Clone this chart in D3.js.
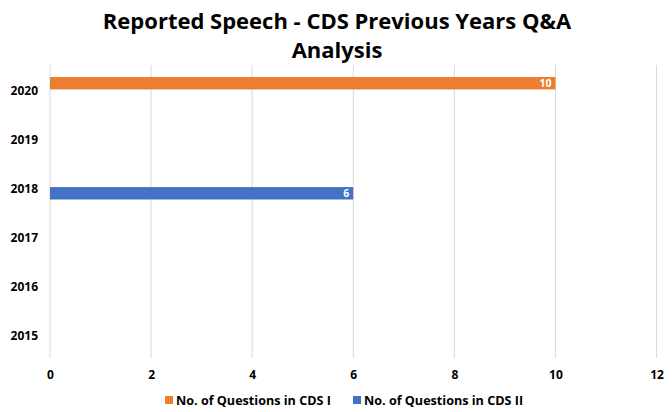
<!DOCTYPE html>
<html><head><meta charset="utf-8">
<script src="https://cdn.jsdelivr.net/npm/d3@7"></script>
<style>body{margin:0;background:#fff}svg{display:block}</style>
</head><body>
<svg id="c" width="672" height="412"></svg>
<script>
const years = ["2020","2019","2018","2017","2016","2015"];
const seriesNames = ["No. of Questions in CDS I","No. of Questions in CDS II"];
const cds1 = [10,0,0,0,0,0];
const cds2 = [0,0,6,0,0,0];
const xTicks = [0,2,4,6,8,10,12];
const colors = ["#ED7D31","#4472C4"];
const titleLines = ["Reported Speech - CDS Previous Years Q&A","Analysis"];

const svg = d3.select("#c");
const font = "'Open Sans', 'Noto Sans', sans-serif";
const m = {l:50, r:15, t:65, b:54};
const x = d3.scaleLinear().domain([0,12]).range([m.l, 656.5]);
const y = d3.scaleBand().domain(years).range([m.t, 358]).paddingInner(0).paddingOuter(0);
const sub = d3.scaleBand().domain([0,1]).range([0, y.bandwidth()]).paddingInner(0).paddingOuter(0.97);

// title
svg.selectAll("text.title").data(titleLines).join("text")
  .attr("class","title")
  .attr("x", 337).attr("y",(d,i)=>29+i*29)
  .attr("text-anchor","middle")
  .attr("font-family",font).attr("font-weight","bold").attr("font-size",22)
  .attr("fill","#000").text(d=>d);

// grid
svg.append("g").selectAll("line").data(xTicks).join("line")
  .attr("x1",d=>x(d)).attr("x2",d=>x(d)).attr("y1",m.t).attr("y2",358)
  .attr("stroke","#d9d9d9").attr("stroke-width",1);

// bars
const data = [];
years.forEach((yr,i)=>{ data.push({yr, s:0, v:cds1[i]}); data.push({yr, s:1, v:cds2[i]}); });
const bars = data.filter(d=>d.v>0);
svg.append("g").selectAll("rect").data(bars).join("rect")
  .attr("x",x(0)).attr("width",d=>x(d.v)-x(0))
  .attr("y",d=>y(d.yr)+sub(d.s)).attr("height",sub.bandwidth())
  .attr("fill",d=>colors[d.s]);
svg.append("g").selectAll("text").data(bars).join("text")
  .attr("x",d=>x(d.v)-4).attr("y",d=>y(d.yr)+sub(d.s)+sub.bandwidth()/2)
  .attr("dy","0.36em").attr("text-anchor","end")
  .attr("font-family",font).attr("font-weight","bold").attr("font-size",10.5)
  .attr("fill","#fff").text(d=>d.v);

// y axis labels
const ya = svg.append("g").attr("transform",`translate(${m.l},0)`)
  .call(d3.axisLeft(y).tickSize(0).tickPadding(12));
ya.select(".domain").remove();
ya.selectAll("text").attr("font-family",font).attr("font-weight","bold").attr("font-size",12).attr("fill","#000").attr("dy","0.5em");

// x axis labels
const xa = svg.append("g").attr("transform",`translate(0,358)`)
  .call(d3.axisBottom(x).tickValues(xTicks).tickSize(0).tickPadding(12));
xa.select(".domain").remove();
xa.selectAll("text").attr("font-family",font).attr("font-weight","bold").attr("font-size",12).attr("fill","#000");

// legend
const lg = svg.append("g");
const lx = [165, 353];
seriesNames.forEach((n,i)=>{
  lg.append("rect").attr("x",lx[i]).attr("y",396).attr("width",8).attr("height",8).attr("fill",colors[i]);
  lg.append("text").attr("x",lx[i]+11).attr("y",400).attr("dy","0.36em")
    .attr("font-family",font).attr("font-weight","bold").attr("font-size",12.6).attr("fill","#000").text(n);
});
</script>
</body></html>
